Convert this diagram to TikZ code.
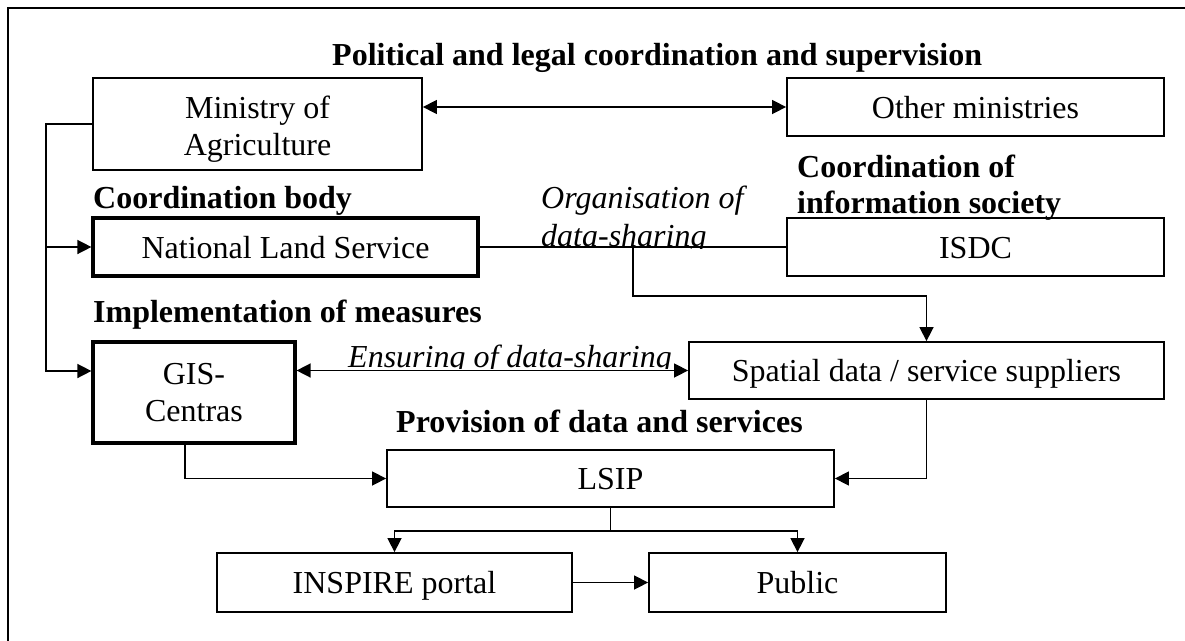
\documentclass[tikz,border=0pt]{standalone}
\usepackage{fontspec}
\setmainfont{Liberation Serif}
\usetikzlibrary{arrows.meta}
\newcommand\myfs{\fontsize{32}{37}\selectfont}
\begin{document}
\begin{tikzpicture}[x=1pt,y=-1pt,
  box/.style={draw,line width=1.8pt,inner sep=0pt,font=\myfs},
  tbox/.style={box,line width=3.2pt},
  one/.style={text height=22pt,text depth=0pt},
  boxtext/.style={inner sep=0pt,align=center,font=\myfs},
  lab/.style={inner sep=0pt,font=\myfs},
  conn/.style={line width=1.5pt},
  arr/.style={-{Triangle[length=14pt,width=14pt]}},
  darr/.style={{Triangle[length=14pt,width=14pt]}-{Triangle[length=14pt,width=14pt]}}
]
\useasboundingbox (0,0) rectangle (1185,640);
\begin{scope}
  \clip (0,0) rectangle (1185,640);
  \draw[line width=2pt] (8,660) -- (8,8) -- (1200,8);
\end{scope}

% boxes
\node[box,minimum width=329pt,minimum height=92pt] (min) at (257.5,124) {};
\node[boxtext] (minT) at ([yshift=-5pt]min.center) {Ministry of\\Agriculture};
\node[box,one,minimum width=377pt,minimum height=58pt] (oth) at (975.5,107) {Other ministries};
\node[tbox,one,minimum width=385pt,minimum height=58pt] (nls) at (285.5,247) {National Land Service};
\node[box,one,minimum width=377pt,minimum height=58pt] (isdc) at (975.5,247) {ISDC};
\node[tbox,align=center,minimum width=202pt,minimum height=101pt] (gis) at (194,392.5) {GIS-\\Centras};
\node[box,one,minimum width=475pt,minimum height=57pt] (spat) at (926.5,370.5) {Spatial data / service suppliers};
\node[box,one,minimum width=447pt,minimum height=57pt] (lsip) at (610.5,478.5) {LSIP};
\node[box,one,minimum width=355pt,minimum height=59pt] (insp) at (394.5,582.5) {INSPIRE portal};
\node[box,one,minimum width=297pt,minimum height=59pt] (pub) at (797.5,582.5) {Public};

% labels
\node[lab,anchor=base west] (title) at (332,65) {\bfseries Political and legal coordination and supervision};
\node[lab,anchor=base west] (cbody) at (93,208) {\bfseries Coordination body};
\node[lab,anchor=north west,align=left,font=\fontsize{32}{36}\selectfont\bfseries] (cinfo) at (797,155) {Coordination of\\information society};
\node[lab,anchor=base west] (impl) at (93,322) {\bfseries Implementation of measures};
\node[lab,anchor=base west] (prov) at (396,432) {\bfseries Provision of data and services};
\begin{scope}
  \clip (500,150) rectangle (800,248);
  \node[lab,anchor=north west,align=left,font=\fontsize{32}{38}\selectfont\itshape] (org) at (541,186) {Organisation of\\data-sharing};
\end{scope}
\begin{scope}
  \clip (300,330) rectangle (680,368);
  \node[lab,anchor=base west] (ens) at (348,367) {\itshape Ensuring of data-sharing};
\end{scope}

% connectors
\coordinate (busB) at (46,371);
\draw[conn,darr] (min.east |- oth.west) -- (oth.west);
\draw[conn,arr] (min.west) -| (busB) -- (gis.west |- busB);
\draw[conn,arr] (busB |- nls.west) -- (nls.west);
\draw[conn] (nls.east) -- (isdc.west);
\coordinate (orgJ) at (633,248);
\draw[conn,arr] (orgJ) -- ++(0,48) -| (spat.north);
\draw[conn,darr] (gis.east |- spat.west) -- (spat.west);
\draw[conn,arr] ([xshift=-9pt]gis.south) |- (lsip.west);
\draw[conn,arr] (spat.south) |- (lsip.east);
\draw[conn] (lsip.south) -- ++(0,23) coordinate (lj);
\draw[conn,arr] (lj) -| (insp.north);
\draw[conn,arr] (lj) -| (pub.north);
\draw[conn,arr] (insp.east) -- (pub.west);
\end{tikzpicture}
\end{document}
